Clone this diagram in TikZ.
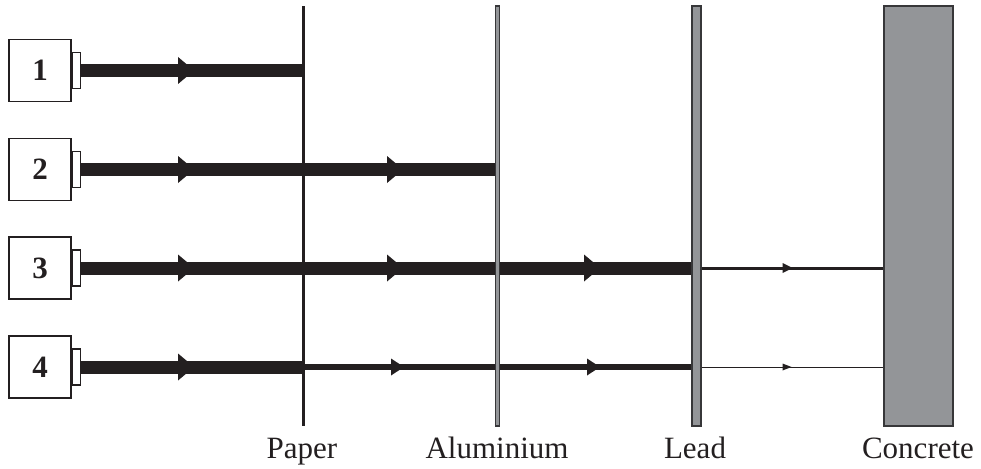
\documentclass[tikz,border=0pt]{standalone}
\usepackage{fontspec}
\setmainfont{Liberation Serif}
\usetikzlibrary{decorations.markings,backgrounds}
\definecolor{shield}{RGB}{147,149,152}
\definecolor{edgegray}{RGB}{55,55,57}
\definecolor{ink}{RGB}{35,31,32}
\tikzset{
  src/.style={draw=ink, line width=1.5pt, fill=white, minimum width=62pt, minimum height=62pt,
    inner sep=0pt, font=\fontsize{31}{37}\selectfont\bfseries, text=ink},
  tabbox/.style={draw=ink, line width=1.3pt, fill=white, minimum width=8pt, minimum height=36pt,
    inner sep=0pt, anchor=west},
  beam/.style={draw=ink, line width=#1},
  tri/.style n args={3}{postaction={decorate, decoration={markings,
      mark=at position #1pt with {\fill[ink] (0,-#3) -- (#2,0) -- (0,#3) -- cycle;}}}},
  wall/.style={inner sep=0pt, minimum height=420pt},
  lbl/.style={font=\fontsize{31}{37}\selectfont, text=ink, anchor=base, inner sep=0pt},
}
\begin{document}
\begin{tikzpicture}[x=1pt,y=-1pt]
\useasboundingbox (0,0) rectangle (981,468);
% barriers
\node[wall, fill=ink, minimum width=3pt] (paper) at (303,216) {};
\node[wall, fill=shield, draw=edgegray, line width=1.1pt, minimum width=3.6pt] (alu) at (497.5,216) {};
\node[wall, fill=shield, draw=edgegray, line width=1.5pt, minimum width=9pt] (lead) at (696.5,216) {};
\node[wall, fill=shield, draw=edgegray, line width=1.5pt, minimum width=69pt] (concrete) at (918.5,216) {};
% sources
\foreach \i/\yy in {1/70.5,2/169.5,3/268,4/367}{
  \node[src] (box\i) at (40,\yy) {\i};
  \node[tabbox] (tab\i) at (box\i.east) {};
}
% beams
\begin{scope}[on background layer]
\draw[beam=13pt, tri={97}{16}{13.5}] (tab1.east) -- (tab1.east -| paper.center);
\draw[beam=13pt, tri={97}{16}{13.5}, tri={306}{16}{13.5}] (tab2.east) -- (tab2.east -| alu.center);
\draw[beam=13pt, tri={97}{16}{13.5}, tri={306}{16}{13.5}, tri={503}{16}{13.5}] (tab3.east) -- (tab3.east -| lead.west);
\draw[beam=3pt, tri={86}{10}{5}] (tab3.east -| lead.center) -- (tab3.east -| concrete.west);
\draw[beam=13pt, tri={97}{16}{13.5}] (tab4.east) -- (tab4.east -| paper.center);
\draw[beam=6pt, tri={88}{13}{8.5}, tri={284}{13}{8.5}] (tab4.east -| paper.center) -- (tab4.east -| lead.west);
\draw[beam=1pt, tri={86}{9}{3.5}] (tab4.east -| lead.center) -- (tab4.east -| concrete.west);
\end{scope}
% labels
\node[lbl] (lpaper) at (302,458) {Paper};
\node[lbl] (lalu) at (497,458) {Aluminium};
\node[lbl] (llead) at (695,458) {Lead};
\node[lbl] (lconc) at (918,458) {Concrete};
\end{tikzpicture}
\end{document}
